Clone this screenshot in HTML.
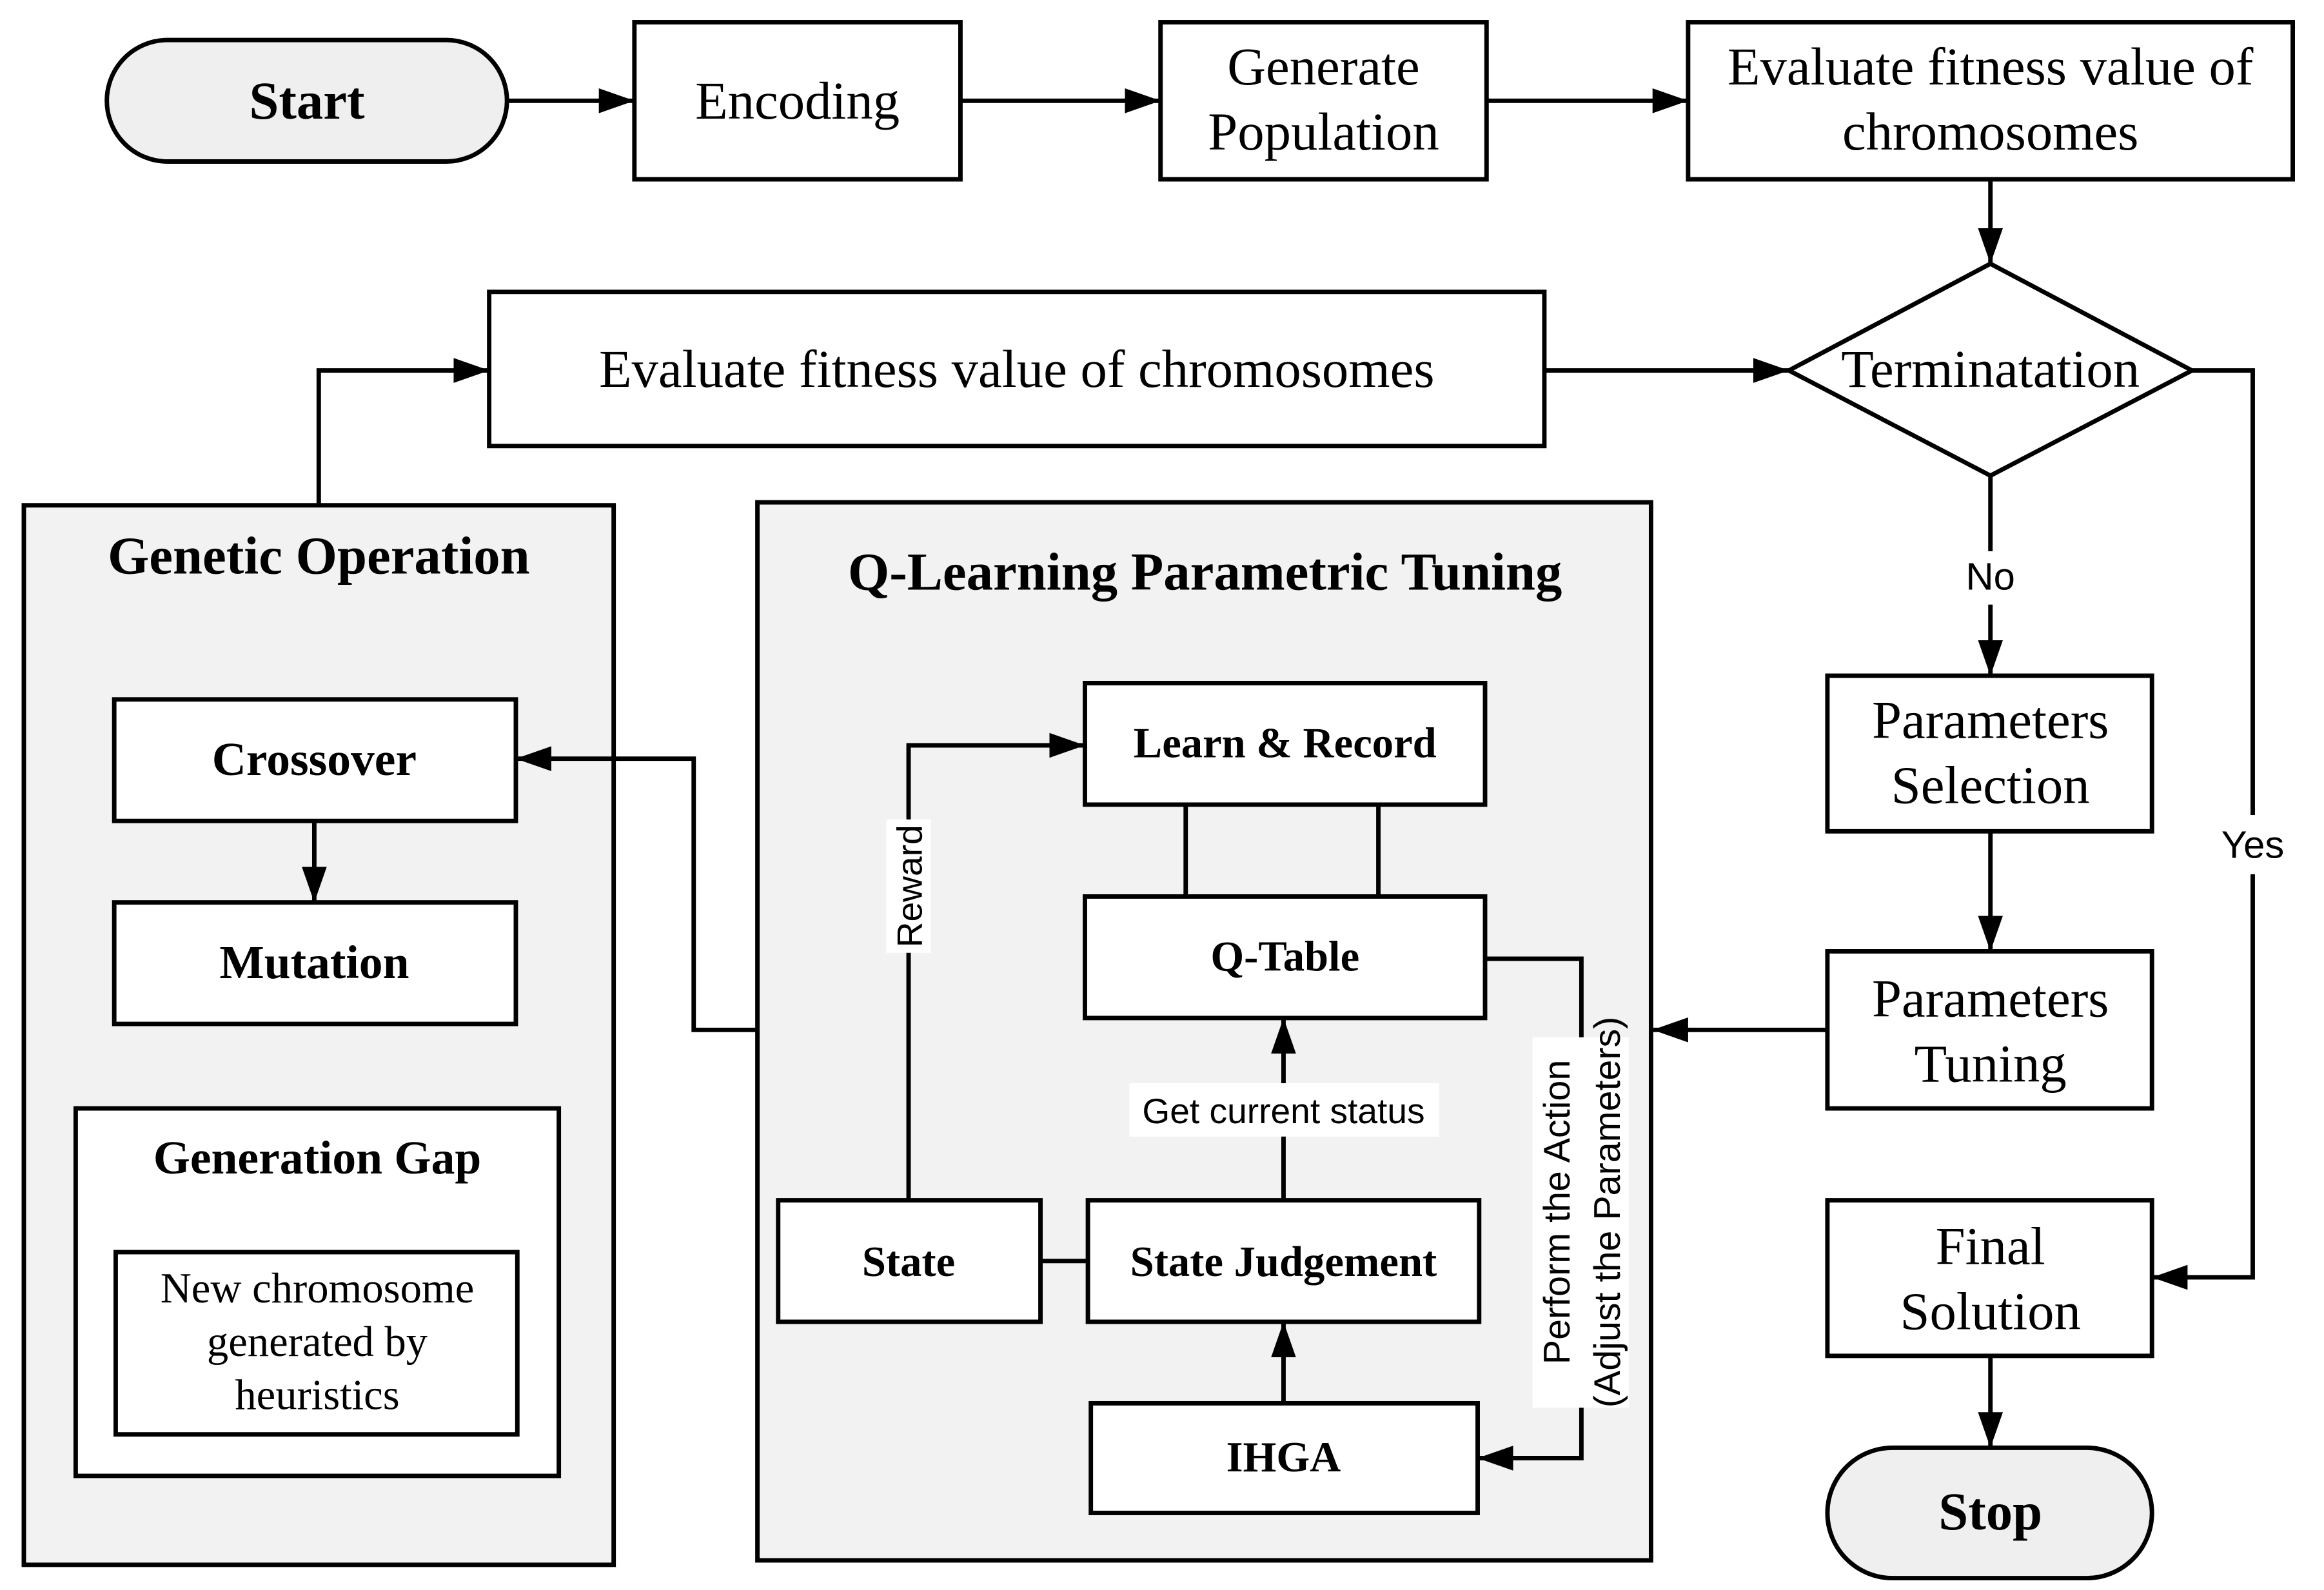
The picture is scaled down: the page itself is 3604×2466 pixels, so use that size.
<!DOCTYPE html>
<html><head><meta charset="utf-8"><style>html,body{margin:0;padding:0;background:#fff}svg{display:block}</style></head><body>
<svg width="3604" height="2466" viewBox="0 0 1568 1073" xmlns="http://www.w3.org/2000/svg">
<defs><marker id="b" viewBox="0 0 10 10" refX="10" refY="5" markerWidth="24" markerHeight="24" markerUnits="userSpaceOnUse" orient="auto"><path d="M0,1.5L10,5L0,8.5z" fill="#000"/></marker></defs>
<rect width="1568" height="1073" fill="#fff"/>
<g stroke="#000" stroke-width="3" fill="#fff">
<rect x="16" y="341" width="398" height="715" fill="#f2f2f2"/>
<rect x="511" y="339" width="603" height="714" fill="#f2f2f2"/>
<rect x="72" y="27" width="270" height="82" rx="41" fill="#efefef"/>
<rect x="428" y="15" width="220" height="106"/>
<rect x="783" y="15" width="220" height="106"/>
<rect x="1139" y="15" width="408" height="106"/>
<polygon points="1343,178 1479,250 1343,321 1207,250"/>
<rect x="330" y="197" width="712" height="104"/>
<rect x="1233" y="456" width="219" height="105"/>
<rect x="1233" y="642" width="219" height="106"/>
<rect x="1233" y="810" width="219" height="105"/>
<rect x="1233" y="977" width="219" height="88" rx="44" fill="#efefef"/>
<rect x="77" y="472" width="271" height="82"/>
<rect x="77" y="609" width="271" height="82"/>
<rect x="51" y="748" width="326" height="248"/>
<rect x="78" y="845" width="271" height="123"/>
<rect x="732" y="461" width="270" height="82"/>
<rect x="732" y="605" width="270" height="82"/>
<rect x="525" y="810" width="177" height="82"/>
<rect x="734" y="810" width="264" height="82"/>
<rect x="736" y="947" width="261" height="74"/>
</g>
<g stroke="#000" stroke-width="3" fill="none" marker-end="url(#b)">
<path d="M342,68H428"/><path d="M648,68H783"/><path d="M1003,68H1139"/>
<path d="M1343,121V178"/>
<path d="M1042,250H1207"/>
<path d="M215,340V250H330"/>
<path d="M1479,250H1520V862H1452"/>
<path d="M1343,321V456"/>
<path d="M1343,561V642"/>
<path d="M1233,695H1115"/>
<path d="M1343,915V977"/>
<path d="M212,554V609"/>
<path d="M511,695H468V512H348"/>
<path d="M866,947V892"/>
<path d="M866,810V687"/>
<path d="M613,810V503H732"/>
<path d="M1002,647H1067V984H997"/>
</g>
<g stroke="#000" stroke-width="3"><path d="M800,543V605M930,543V605M702,851H734"/></g>
<rect x="1300" y="372" width="86" height="36" fill="#fff"/>
<rect x="1497" y="550" width="46" height="40" fill="#fff"/>
<rect x="762" y="731" width="209" height="36" fill="#fff"/>
<rect x="598" y="553" width="30" height="90" fill="#fff"/>
<rect x="1034" y="700" width="65" height="250" fill="#fff"/>
<g font-family="Liberation Serif, serif" font-size="36" text-anchor="middle" fill="#000">
<text x="207" y="80" font-weight="bold">Start</text>
<text x="538" y="80">Encoding</text>
<text x="893" y="57">Generate</text><text x="893" y="101">Population</text>
<text x="1343" y="57">Evaluate fitness value of</text><text x="1343" y="101">chromosomes</text>
<text x="1343" y="261">Terminatation</text>
<text x="686" y="261">Evaluate fitness value of chromosomes</text>
<text x="1343" y="498">Parameters</text><text x="1343" y="542">Selection</text>
<text x="1343" y="686">Parameters</text><text x="1343" y="730">Tuning</text>
<text x="1343" y="853">Final</text><text x="1343" y="897">Solution</text>
<text x="1343" y="1032" font-weight="bold">Stop</text>
<text x="215" y="387" font-weight="bold">Genetic Operation</text>
<text x="813" y="398" font-weight="bold">Q-Learning Parametric Tuning</text>
<g font-size="32" font-weight="bold">
<text x="212" y="523">Crossover</text><text x="212" y="660">Mutation</text>
<text x="214" y="792">Generation Gap</text>
</g>
<g font-size="29" font-weight="bold">
<text x="867" y="511">Learn &amp; Record</text><text x="867" y="655">Q-Table</text>
<text x="613" y="861">State</text><text x="866" y="861">State Judgement</text>
<text x="866" y="993">IHGA</text>
</g>
<g font-size="29"><text x="214" y="879">New chromosome</text><text x="214" y="915">generated by</text><text x="214" y="951">heuristics</text></g>
</g>
<g font-family="Liberation Sans, DejaVu Sans, sans-serif" font-size="26" text-anchor="middle" fill="#000">
<text x="1343" y="398">No</text><text x="1520" y="579">Yes</text>
<text x="866" y="758" font-size="24">Get current status</text>
<text transform="translate(622,598) rotate(-90)" font-size="24">Reward</text>
<text transform="translate(1059,818) rotate(-90)" font-size="25">Perform the Action</text>
<text transform="translate(1093,818) rotate(-90)" font-size="25">(Adjust the Parameters)</text>
</g>
</svg>
</body></html>
